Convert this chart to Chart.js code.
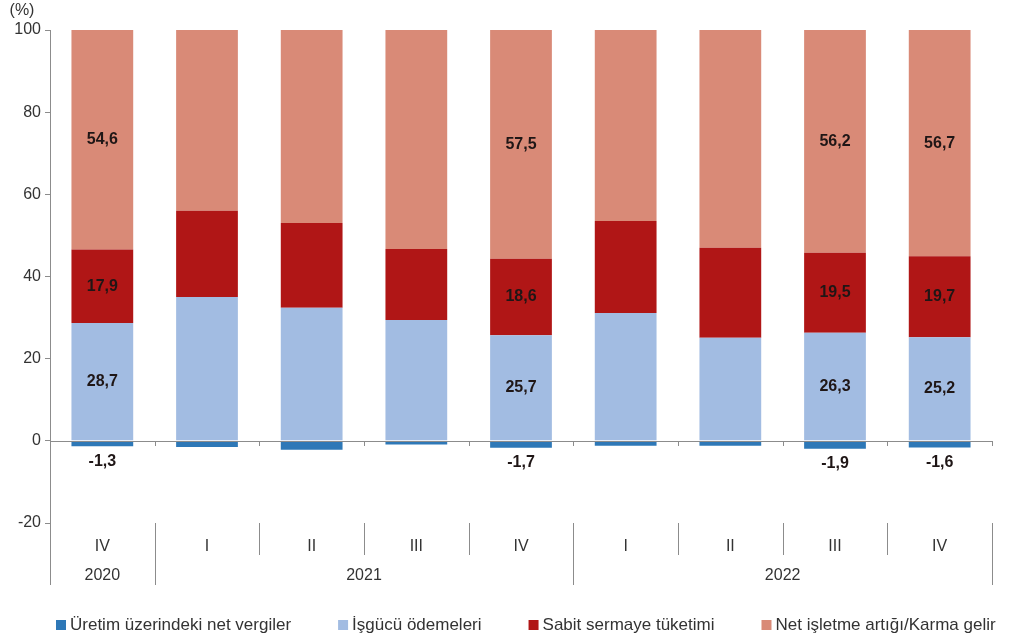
<!DOCTYPE html>
<html>
<head>
<meta charset="utf-8">
<script src="https://cdn.jsdelivr.net/npm/chart.js@4.4.0/dist/chart.umd.min.js"></script>
<style>
  html, body { margin: 0; padding: 0; background: #fff; }
  #wrap { width: 1010px; height: 641px; position: relative; }
</style>
</head>
<body>
<div id="wrap"><canvas id="chart"></canvas></div>
<script>
// quarters and years on the category axis
const quarters = ['IV', 'I', 'II', 'III', 'IV', 'I', 'II', 'III', 'IV'];
const yearLabels = ['2020', '2021', '2022'];
const yearFirst = [0, 1, 5];
const yearLast = [0, 4, 8];

// shares of GDP (%), income approach
const netTaxes = [-1.3, -1.5, -2.2, -0.9, -1.7, -1.2, -1.2, -1.9, -1.6];
const labour = [28.7, 35.0, 32.4, 29.4, 25.7, 31.1, 25.1, 26.3, 25.2];
const capitalUse = [17.9, 21.0, 20.6, 17.3, 18.6, 22.4, 21.9, 19.5, 19.7];
const surplus = [54.6, 45.5, 49.2, 54.2, 57.5, 47.7, 54.2, 56.2, 56.7];

// which bars carry value labels
const showLabel = [true, false, false, false, true, false, false, true, true];

const yTicks = [100, 80, 60, 40, 20, 0, -20];

const FONT = 'Liberation Sans, Arial, sans-serif';
const AXIS = '#8c8c8c';

const extras = {
    id: 'extras',
    afterDatasetsDraw(chart) {
        const ctx = chart.ctx;
        const area = chart.chartArea;
        const xs = chart.scales.x;
        const y0 = Math.round(chart.scales.y.getPixelForValue(0));
        const step = xs.width / quarters.length;
        ctx.save();
        // zero line with small ticks
        ctx.strokeStyle = AXIS;
        ctx.lineWidth = 1;
        ctx.beginPath();
        ctx.moveTo(area.left, y0 + 0.5);
        ctx.lineTo(area.right, y0 + 0.5);
        for (let k = 1; k <= quarters.length; k++) {
            const x = Math.round(xs.left + k * step) + 0.5;
            ctx.moveTo(x, y0);
            ctx.lineTo(x, y0 + 5);
        }
        ctx.stroke();

        // value labels
        ctx.font = 'bold 16px ' + FONT;
        ctx.fillStyle = '#1f1616';
        ctx.textAlign = 'center';
        ctx.textBaseline = 'middle';
        chart.data.datasets.forEach((ds, di) => {
            chart.getDatasetMeta(di).data.forEach((bar, i) => {
                if (!showLabel[i]) return;
                const v = ds.data[i];
                const y = v < 0 ? bar.y + 15 : (Math.max(bar.y, area.top) + bar.base) / 2;
                ctx.fillText(v.toFixed(1).replace('.', ','), bar.x, y);
            });
        });
        ctx.restore();
    },
    afterDraw(chart) {
        const ctx = chart.ctx;
        const area = chart.chartArea;
        const xs = chart.scales.x;
        const step = xs.width / quarters.length;
        const bottom = area.bottom + 62;
        ctx.save();
        ctx.strokeStyle = AXIS;
        ctx.lineWidth = 1;
        ctx.beginPath();
        // y axis runs down through the category area
        ctx.moveTo(area.left + 0.5, area.bottom);
        ctx.lineTo(area.left + 0.5, bottom);
        for (let k = 1; k <= quarters.length; k++) {
            const x = Math.round(xs.left + k * step) + 0.5;
            const yearEdge = yearFirst.includes(k) || k === quarters.length;
            ctx.moveTo(x, area.bottom);
            ctx.lineTo(x, yearEdge ? bottom : area.bottom + 32);
        }
        ctx.stroke();

        ctx.font = '16px ' + FONT;
        ctx.fillStyle = '#333';
        ctx.textAlign = 'center';
        ctx.textBaseline = 'middle';
        yearLabels.forEach((y, i) => {
            const x = (xs.getPixelForValue(yearFirst[i]) + xs.getPixelForValue(yearLast[i])) / 2;
            ctx.fillText(y, x, area.bottom + 53);
        });
        ctx.fillText('(%)', area.left - 28, area.top - 19);

        // legend row under the axis
        ctx.font = '17px ' + FONT;
        ctx.textAlign = 'left';
        let lx = 56;
        const ly = chart.height - 16;
        chart.data.datasets.forEach((ds) => {
            ctx.fillStyle = ds.backgroundColor;
            ctx.fillRect(lx, ly - 5, 10, 10);
            ctx.fillStyle = '#333';
            ctx.fillText(ds.label, lx + 14, ly);
            lx += 14 + ctx.measureText(ds.label).width + 47;
        });
        ctx.restore();
    }
};

new Chart(document.getElementById('chart').getContext('2d'), {
    type: 'bar',
    data: {
        labels: quarters,
        datasets: [
            { label: 'Üretim üzerindeki net vergiler', data: netTaxes, backgroundColor: '#2e78b7' },
            { label: 'İşgücü ödemeleri', data: labour, backgroundColor: '#a2bce2' },
            { label: 'Sabit sermaye tüketimi', data: capitalUse, backgroundColor: '#b01616' },
            { label: 'Net işletme artığı/Karma gelir', data: surplus, backgroundColor: '#d98a77' }
        ]
    },
    options: {
        responsive: true,
        maintainAspectRatio: false,
        animation: false,
        layout: { padding: { top: 30, right: 18, left: 8, bottom: 50 } },
        datasets: { bar: { barPercentage: 0.59, categoryPercentage: 1 } },
        scales: {
            x: {
                stacked: true,
                grid: { display: false, drawTicks: false },
                border: { display: false },
                ticks: { color: '#333', font: { family: FONT, size: 16 }, padding: 14, maxRotation: 0 },
                afterFit: (scale) => { scale.height = 68; }
            },
            y: {
                stacked: true,
                min: -20,
                max: 100,
                afterBuildTicks: (scale) => { scale.ticks = yTicks.map(v => ({ value: v })); },
                afterFit: (scale) => { scale.width = 42; },
                grid: { drawOnChartArea: false, tickLength: 5, color: AXIS },
                border: { color: AXIS },
                ticks: { color: '#333', font: { family: FONT, size: 16 }, padding: 4 }
            }
        },
        plugins: {
            tooltip: { enabled: false },
            legend: { display: false }
        }
    },
    plugins: [extras]
});
</script>
</body>
</html>
